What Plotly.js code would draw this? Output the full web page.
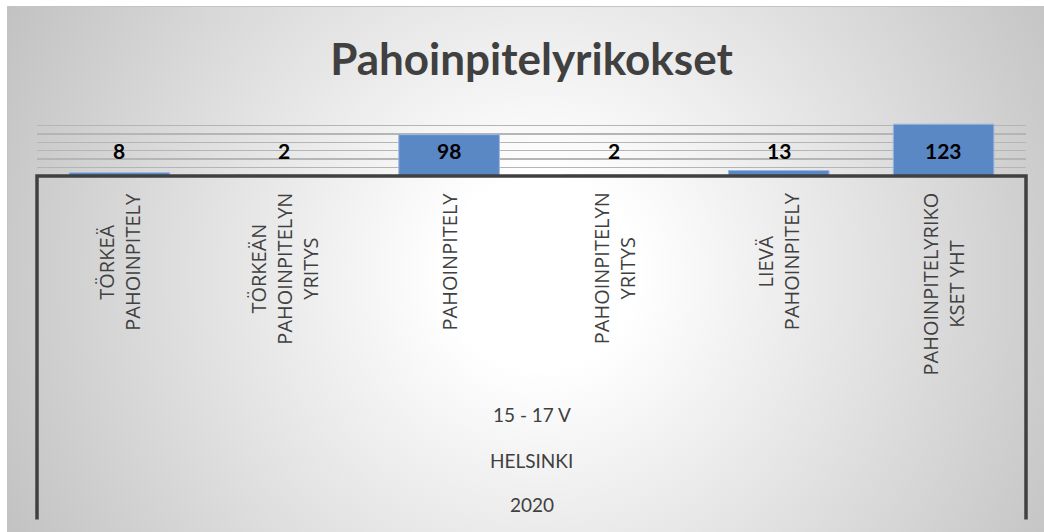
<!DOCTYPE html>
<html>
<head>
<meta charset="utf-8">
<script src="https://cdn.plot.ly/plotly-3.0.1.min.js"></script>
<style>
  html, body { margin:0; padding:0; background:#ffffff; width:1044px; height:532px; overflow:hidden; }
  #bg { position:absolute; left:7px; top:6px; width:1044px; height:532px;
        border-top:1px solid #c4c4c4; border-left:1px solid #c4c4c4;
        background: radial-gradient(circle farthest-corner at 51% 50%, #ffffff 0%, #ffffff 16%, #c2c2c2 100%); }
  #chart { position:absolute; left:0; top:0; width:1044px; height:532px; }
</style>
</head>
<body>
<div id="bg"></div>
<div id="chart"></div>
<script>
// Data
const categories = ["TÖRKEÄ PAHOINPITELY", "TÖRKEÄN PAHOINPITELYN YRITYS", "PAHOINPITELY",
                    "PAHOINPITELYN YRITYS", "LIEVÄ PAHOINPITELY", "PAHOINPITELYRIKOKSET YHT"];
const tickLabels = ["TÖRKEÄ<br>PAHOINPITELY", "TÖRKEÄN<br>PAHOINPITELYN<br>YRITYS", "PAHOINPITELY",
                    "PAHOINPITELYN<br>YRITYS", "LIEVÄ<br>PAHOINPITELY", "PAHOINPITELYRIKO<br>KSET YHT"];
const values = [8, 2, 98, 2, 13, 123];
const groupLabels = ["15 - 17 V", "HELSINKI", "2020"];
const chartTitle = "Pahoinpitelyrikokset";

// Layout geometry (pixels)
const W = 1044, H = 532;
const plotTop = 117, plotBottom = 176.5;
const plotH = plotBottom - plotTop;
const pyPaper = px => 1 - (px - plotTop) / plotH;

const annotations = [];
// value labels
values.forEach((v, i) => {
  annotations.push({
    x: categories[i], xref: 'x', y: pyPaper(151), yref: 'paper',
    text: String(v), showarrow: false, yanchor: 'middle', xanchor: 'center',
    font: {family: 'Lato, sans-serif', size: 21, color: '#000000', weight: 'bold'}
  });
});
// category labels (rotated)
tickLabels.forEach((t, i) => {
  annotations.push({
    x: categories[i], xref: 'x', y: pyPaper(191), yref: 'paper',
    text: t, showarrow: false, textangle: -90, align: 'center',
    yanchor: 'top', xanchor: 'center',
    font: {family: 'Open Sans, sans-serif', size: 20, color: '#404040'}
  });
});
// group labels
const groupY = [417, 463, 508];
groupLabels.forEach((g, i) => {
  annotations.push({
    x: 0.5, xref: 'paper', y: pyPaper(groupY[i]), yref: 'paper',
    text: g, showarrow: false, yanchor: 'middle', xanchor: 'center',
    font: {family: 'Lato, sans-serif', size: 19, color: '#404040'}
  });
});

const frameBottom = pyPaper(523);
const shapes = [
  {type:'path', xref:'paper', yref:'paper',
   path: `M 0 ${frameBottom} L 0 0 L 1 0 L 1 ${frameBottom}`,
   line:{color:'#404040', width:3.5}, layer:'above'}
];

const trace = {
  type: 'bar', x: categories, y: values,
  marker: {color: '#5a88c4', line: {color: '#9ab6de', width: 1}},
  hoverinfo: 'none', cliponaxis: false
};

const layout = {
  width: W, height: H,
  margin: {l: 37, r: 18, t: plotTop, b: H - plotBottom, pad: 0},
  paper_bgcolor: 'rgba(0,0,0,0)', plot_bgcolor: 'rgba(0,0,0,0)',
  showlegend: false,
  bargap: 0.39,
  title: {text: chartTitle, x: 0.5, xref: 'paper', xanchor: 'center',
          y: 1 - 60 / H, yanchor: 'middle', yref: 'container',
          font: {family: 'Lato, sans-serif', size: 44, color: '#404040', weight: 'bold'}},
  xaxis: {type: 'category', range: [-0.5, 5.5], showticklabels: false, showgrid: false,
          zeroline: false, showline: false, ticks: '', fixedrange: true},
  yaxis: {range: [0, 140], dtick: 20, showticklabels: false, showgrid: true,
          gridcolor: '#b5b5b5', gridwidth: 1.5, zeroline: false, showline: false,
          ticks: '', fixedrange: true},
  annotations: annotations,
  shapes: shapes
};

Plotly.newPlot('chart', [trace], layout, {displayModeBar: false, staticPlot: true});
</script>
</body>
</html>
